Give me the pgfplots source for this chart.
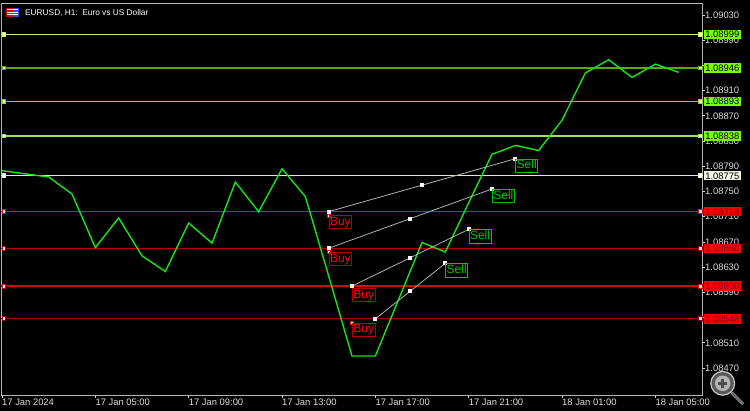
\documentclass[border=0pt]{standalone}
\usepackage{pgfplots}
\pgfplotsset{compat=1.18}
\usepackage{fontspec}
\setmainfont{Liberation Sans}

% terminal palette
\definecolor{framec}{HTML}{B4B4B4}
\definecolor{tickc}{HTML}{DCDCDC}
\definecolor{pricec}{HTML}{14E614}
\definecolor{tradec}{HTML}{B0B0B0}
\definecolor{lvA}{HTML}{C0F080}
\definecolor{lvB}{HTML}{5AA800}
\definecolor{lvC}{HTML}{80E000}
\definecolor{lvD}{HTML}{A0E058}
\definecolor{lvE}{HTML}{E6E6D2}
\definecolor{lvF}{HTML}{FF0000}
\definecolor{lvG}{HTML}{B40000}
\definecolor{lvH}{HTML}{E00000}
\definecolor{lvI}{HTML}{A00000}
\definecolor{gbox}{HTML}{7CFC00}
\definecolor{wbox}{HTML}{F5F5E8}
\definecolor{rbox}{HTML}{FF0000}
\definecolor{rtext}{HTML}{780000}
\definecolor{buyb}{HTML}{B00000}
\definecolor{sellc}{HTML}{00C800}

\newcommand\tkfont{\fontsize{9.4}{10}\selectfont}
\newcommand\tagfont{\fontsize{12}{12}\selectfont}

% one price level: horizontal line, end squares and an anchor for its price tag
\newcommand\level[4]{%
  \addplot[#2, line width=1.3pt, forget plot] coordinates {(0.957,#1) (31.0,#1)};
  \addplot[only marks, mark=square*, mark size=1.9pt,
    mark options={draw=#2, fill=#3, line width=0.9pt}, forget plot]
    coordinates {(1.086,#1) (30.95,#1)};
  \coordinate (#4) at (axis cs:31.0,#1);
}

\begin{document}
\begin{tikzpicture}[x=1pt,y=1pt]
\useasboundingbox (0,0) rectangle (750,411);
\fill[black] (0,0) rectangle (750,411);

\begin{axis}[
  at={(1pt,16pt)}, anchor=south west,
  scale only axis, width=701pt, height=392pt,
  xmin=0.957, xmax=31.0,
  ymin=1.084272, ymax=1.090490,
  axis line style={framec, line width=0.8pt},
  tick style={tickc, line width=0.8pt},
  tick align=outside, major tick length=3pt,
  xtick pos=left, ytick pos=right,
  yticklabel pos=right,
  xtick={1,5,9,13,17,21,25,29},
  xticklabels={17 Jan 2024, 17 Jan 05:00, 17 Jan 09:00, 17 Jan 13:00,
               17 Jan 17:00, 17 Jan 21:00, 18 Jan 01:00, 18 Jan 05:00},
  ytick={1.08470,1.08510,1.08550,1.08590,1.08630,1.08670,1.08710,1.08750,
         1.08790,1.08830,1.08870,1.08910,1.08950,1.08990,1.09030},
  % 1.08550 and 1.08950 sit fully behind the price tags
  yticklabels={1.08470,1.08510,{},1.08590,1.08630,1.08670,1.08710,1.08750,
               1.08790,1.08830,1.08870,1.08910,{},1.08990,1.09030},
  xticklabel style={anchor=north west, inner sep=0pt, font=\tkfont, text=tickc, yshift=-1pt},
  yticklabel style={anchor=west, inner sep=0pt, font=\tkfont, text=tickc},
  clip mode=individual,
]

% price levels
\level{1.08999}{lvA}{white}{LA}
\level{1.08946}{lvB}{white}{LB}
\level{1.08893}{lvC}{white}{LC}
\level{1.08838}{lvD}{white}{LD}
\level{1.08775}{lvE}{white}{LE}
\level{1.08718}{lvF}{white}{LF}
\level{1.08660}{lvG}{white}{LG}
\level{1.08600}{lvH}{white}{LH}
\level{1.08548}{lvI}{white}{LI}

% EURUSD H1 closes
\addplot[pricec, line width=1.4pt] table {
h  close
1  1.08783
2  1.08778
3  1.08773
4  1.08746
5  1.08661
6  1.08708
7  1.08648
8  1.08623
9  1.08700
10 1.08668
11 1.08765
12 1.08718
13 1.08786
14 1.08742
15 1.08616
16 1.08489
17 1.08489
18 1.08579
19 1.08669
20 1.08654
21 1.08732
22 1.08809
23 1.08823
24 1.08815
25 1.08863
26 1.08938
27 1.08959
28 1.08931
29 1.08952
30 1.08939
};

% buy deal arrows
\addplot[only marks, mark=square*, mark size=1.5pt,
  mark options={draw=red, fill=white, line width=0.6pt}]
  coordinates {(15,1.08711) (15,1.08655) (16,1.08600) (16,1.08541)};

% closed positions: entry, middle, exit
\addplot[tradec, line width=0.8pt, mark=square*, mark size=1.5pt,
  mark options={fill=white, draw=white}]
  coordinates {(15,1.08718) (19,1.08760) (23,1.08802)};
\addplot[tradec, line width=0.8pt, mark=square*, mark size=1.5pt,
  mark options={fill=white, draw=white}]
  coordinates {(15,1.08660) (18.5,1.08707) (22,1.08754)};
\addplot[tradec, line width=0.8pt, mark=square*, mark size=1.5pt,
  mark options={fill=white, draw=white}]
  coordinates {(16,1.08600) (18.5,1.08645) (21,1.08690)};
\addplot[tradec, line width=0.8pt, mark=square*, mark size=1.5pt,
  mark options={fill=white, draw=white}]
  coordinates {(17,1.08548) (18.5,1.08592) (20,1.08636)};

% deal tags
\tikzset{buytag/.style={draw=buyb, text=red, font=\tagfont, inner xsep=1pt, inner ysep=1pt,
  line width=0.8pt, anchor=north west, text height=8.8pt, text depth=2.5pt},
  selltag/.style={draw=sellc, text=sellc, font=\tagfont, inner xsep=1pt, inner ysep=1pt,
  line width=0.8pt, anchor=north west, text height=8.8pt, text depth=2.5pt}}
\node[buytag] at (axis cs:15,1.08713) {Buy};
\node[buytag] at (axis cs:15,1.08654) {Buy};
\node[buytag] at (axis cs:16,1.08597) {Buy};
\node[buytag] at (axis cs:16,1.08542) {Buy};
\node[selltag] at (axis cs:23,1.08802) {Sell};
\node[selltag] at (axis cs:22,1.08754) {Sell};
\node[selltag] at (axis cs:21,1.08690) {Sell};
\node[selltag] at (axis cs:20,1.08636) {Sell};
\end{axis}

% price tags on the right scale
\tikzset{ptag/.style={anchor=west, xshift=2pt, font=\tkfont, inner xsep=1.2pt, inner ysep=1.3pt,
  text height=6.8pt, text depth=0pt}}
\node[ptag, fill=gbox, text=black] at (LA) {1.08999};
\node[ptag, fill=gbox, text=black] at (LB) {1.08946};
\node[ptag, fill=gbox, text=black] at (LC) {1.08893};
\node[ptag, fill=gbox, text=black] at (LD) {1.08838};
\node[ptag, fill=wbox, text=black] at (LE) {1.08775};
\node[ptag, fill=rbox, text=rtext] at (LF) {1.08718};
\node[ptag, fill=rbox, text=rtext] at (LG) {1.08660};
\node[ptag, fill=rbox, text=rtext] at (LH) {1.08600};
\node[ptag, fill=rbox, text=rtext] at (LI) {1.08548};

% window caption with symbol icon
\fill[red!85!black] (6,394) rectangle (12.5,403);
\fill[blue!75] (12.5,394) rectangle (19,403);
\foreach \yy in {395.5,398,400.5} \fill[white] (7,\yy) rectangle (18,\yy+1);
\node[anchor=west, text=white, inner sep=0pt, font=\fontsize{8.3}{9}\selectfont]
  at (25,397.5) {EURUSD, H1:\ \ Euro vs US Dollar};

% zoom button
\draw[line width=2.5pt, color=black!25] (731.5,18.5) -- (743,7);
\draw[line width=1.2pt, color=black!70] (731.5,18.5) -- (743,7);
\fill[black!20] (722.7,27.7) circle (12.5);
\fill[black!65] (722.7,27.7) circle (11.2);
\fill[black!30] (722.7,27.7) circle (7.8);
\fill[black!70] (718,26.4) rectangle (727.4,29);
\fill[black!70] (721.4,23) rectangle (724,32.4);
\end{tikzpicture}
\end{document}
